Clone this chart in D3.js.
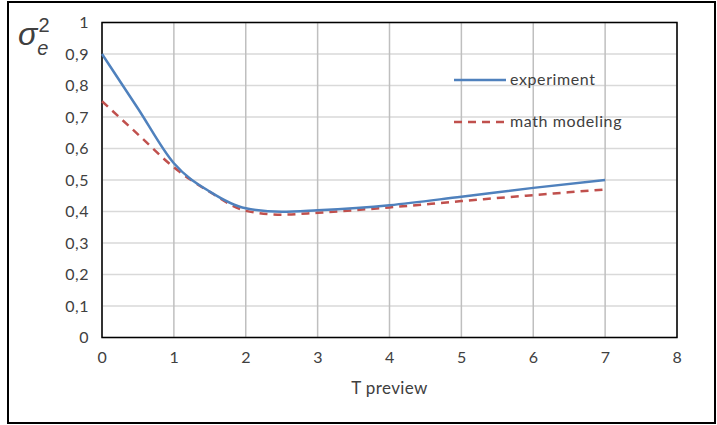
<!DOCTYPE html>
<html><head><meta charset="utf-8">
<script src="https://cdn.jsdelivr.net/npm/d3@7"></script>
<style>
html,body{margin:0;padding:0;background:#fff;}
svg{display:block;}
text{font-family: Lato, "Open Sans", sans-serif; fill:#404040;}
</style></head>
<body>
<svg id="chart" width="717" height="425"></svg>
<script>
const xValues = [0, 0.5, 1, 1.5, 2, 2.5, 3, 4, 5, 6, 7];
const experiment = [0.9, 0.727, 0.553, 0.463, 0.41, 0.399, 0.404, 0.42, 0.447, 0.475, 0.5];
const mathModeling = [0.75, 0.645, 0.54, 0.462, 0.402, 0.39, 0.396, 0.413, 0.433, 0.452, 0.47];
const xTicks = [0, 1, 2, 3, 4, 5, 6, 7, 8];
const yTicks = [0, 0.1, 0.2, 0.3, 0.4, 0.5, 0.6, 0.7, 0.8, 0.9, 1];
const seriesNames = ["experiment", "math modeling"];
const xLabel = "T preview";

const svg = d3.select("#chart");
const m = {left: 102, right: 677, top: 22.5, bottom: 337.5};

svg.append("rect").attr("x", 8).attr("y", 2).attr("width", 707).attr("height", 421)
  .attr("fill", "#fff").attr("stroke", "#000").attr("stroke-width", 2);

const x = d3.scaleLinear().domain([0, 8]).range([m.left, m.right]);
const y = d3.scaleLinear().domain([0, 1]).range([m.bottom, m.top]);

const g = svg.append("g");
g.selectAll(".hg").data(yTicks).enter().append("line")
  .attr("x1", m.left).attr("x2", m.right)
  .attr("y1", d => y(d)).attr("y2", d => y(d))
  .attr("stroke", "#d9d9d9").attr("stroke-width", 1.5);
g.selectAll(".vg").data(xTicks).enter().append("line")
  .attr("y1", m.top).attr("y2", m.bottom)
  .attr("x1", d => x(d)).attr("x2", d => x(d))
  .attr("stroke", "#bfbfbf").attr("stroke-width", 1.5);

svg.append("rect").attr("x", m.left).attr("y", m.top)
  .attr("width", m.right - m.left).attr("height", m.bottom - m.top)
  .attr("fill", "none").attr("stroke", "#000").attr("stroke-width", 1.5);

const fmt = d => d3.format(".1~f")(d).replace(".", ",");
const xAxis = d3.axisBottom(x).tickValues(xTicks).tickSize(0).tickPadding(14).tickFormat(d3.format("d"));
const yAxis = d3.axisLeft(y).tickValues(yTicks).tickSize(0).tickPadding(13).tickFormat(fmt);
const gx = svg.append("g").attr("transform", `translate(0,${m.bottom})`).call(xAxis);
const gy = svg.append("g").attr("transform", `translate(${m.left},0)`).call(yAxis);
[gx, gy].forEach(a => {
  a.select(".domain").remove();
  a.selectAll("text").attr("font-size", 16).attr("fill", "#404040")
   .attr("letter-spacing", "0.5px")
   .style("font-family", 'Lato, "Open Sans", sans-serif');
});

const line = d3.line().curve(d3.curveMonotoneX).x(d => x(d[0])).y(d => y(d[1]));
const expData = xValues.map((v, i) => [v, experiment[i]]);
const mathData = xValues.map((v, i) => [v, mathModeling[i]]);
svg.append("path").datum(mathData).attr("d", line).attr("fill", "none")
  .attr("stroke", "#c0504d").attr("stroke-width", 2.5).attr("stroke-dasharray", "8,6");
svg.append("path").datum(expData).attr("d", line).attr("fill", "none")
  .attr("stroke", "#4f81bd").attr("stroke-width", 2.5);

const leg = [{name: seriesNames[0], color: "#4f81bd", dash: null, y: 80},
             {name: seriesNames[1], color: "#c0504d", dash: "8,6", y: 122}];
leg.forEach(l => {
  svg.append("line").attr("x1", 454).attr("x2", 506).attr("y1", l.y).attr("y2", l.y)
    .attr("stroke", l.color).attr("stroke-width", 2.5).attr("stroke-dasharray", l.dash);
  svg.append("text").attr("x", 510).attr("y", l.y + 5).attr("font-size", 16)
    .attr("letter-spacing", "0.6px").text(l.name);
});

svg.append("text").attr("x", (m.left + m.right) / 2).attr("y", 394)
  .attr("text-anchor", "middle").attr("font-size", 17).attr("letter-spacing", "0.4px").text(xLabel);

const yt = svg.append("text").attr("x", 18).attr("y", 45).style("font-family", '"Liberation Sans", Arial, sans-serif').attr("fill", "#000");
yt.append("tspan").attr("font-size", 32).attr("font-style", "italic").text("σ");
yt.append("tspan").attr("font-size", 20).attr("font-style", "italic").attr("dy", 10).attr("dx", 0).text("e");
yt.append("tspan").attr("font-size", 20).attr("dy", -23).attr("dx", -10).text("2");
</script>
</body></html>
